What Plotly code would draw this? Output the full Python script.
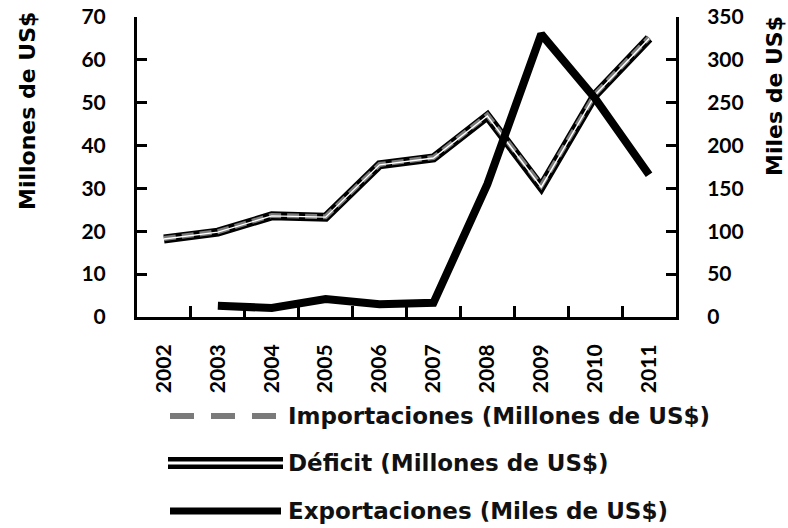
import plotly.graph_objects as go

years = ["2002", "2003", "2004", "2005", "2006", "2007", "2008", "2009", "2010", "2011"]
importaciones = [18.3, 19.9, 23.7, 23.4, 35.6, 37.2, 47.1, 30.6, 52.0, 65.2]
deficit = [18.2, 19.8, 23.6, 23.3, 35.5, 37.1, 46.9, 30.3, 51.8, 65.0]
exportaciones = [None, 13, 10.5, 21, 15, 16.5, 155, 330, 255, 166]

left_ticks = list(range(0, 71, 10))
right_ticks = list(range(0, 351, 50))

TICKFONT = "Lato"
TEXTFONT = "DejaVu Sans"
fig = go.Figure()

# Déficit: double line (black outer, with centre gap)
fig.add_trace(go.Scatter(x=years, y=deficit, mode="lines",
                         line=dict(color="black", width=9), yaxis="y", showlegend=False,
                         hoverinfo="skip"))
# Importaciones: grey dashed, visible in the gap
fig.add_trace(go.Scatter(x=years, y=importaciones, mode="lines",
                         line=dict(color="#7a7a7a", width=5, dash="12px,6px"), yaxis="y",
                         showlegend=False))
fig.add_trace(go.Scatter(x=years, y=deficit, mode="lines",
                         line=dict(color="white", width=1.4), yaxis="y", showlegend=False))
# Exportaciones (right axis)
fig.add_trace(go.Scatter(x=years, y=exportaciones, mode="lines",
                         line=dict(color="black", width=8), yaxis="y2", showlegend=False))

axis_common = dict(showgrid=False, zeroline=False, showline=True, linecolor="black",
                   linewidth=3, ticks="inside", tickcolor="black", tickwidth=2.5,
                   automargin=False,
                   tickfont=dict(family=TICKFONT, size=21, color="black", weight="bold"))

fig.update_layout(
    template="none",
    width=788, height=528, autosize=False,
    margin=dict(l=137, r=112, t=17, b=211, autoexpand=False),
    paper_bgcolor="white", plot_bgcolor="white",
    showlegend=False,
    xaxis=dict(type="category", range=[-0.5, 9.5], tickson="boundaries", ticklen=11,
               tickangle=-90, ticklabelstandoff=16, **axis_common),
    yaxis=dict(range=[0, 70], tickvals=left_ticks, ticklen=10, ticklabelstandoff=24,
               **axis_common),
    yaxis2=dict(range=[0, 350], tickvals=right_ticks, ticklen=10, overlaying="y",
                side="right", ticklabelstandoff=24, **axis_common),
)

def px(x):
    return (x - 137) / 539

def py(y):
    return (317 - y) / 300

# Axis titles
fig.add_annotation(text="Millones de US$", xref="paper", yref="paper",
                   x=px(27), y=py(111), textangle=-90, showarrow=False,
                   xanchor="center", yanchor="middle",
                   font=dict(family=TEXTFONT, size=22, color="black", weight="bold"))
fig.add_annotation(text="Miles de US$", xref="paper", yref="paper",
                   x=px(775), y=py(96), textangle=-90, showarrow=False,
                   xanchor="center", yanchor="middle",
                   font=dict(family=TEXTFONT, size=22, color="black", weight="bold"))

# Manual legend
legend_items = ["Importaciones (Millones de US$)", "Déficit (Millones de US$)",
                "Exportaciones (Miles de US$)"]
rows = [416, 463, 511]

fig.add_shape(type="line", xref="paper", yref="paper", x0=px(170), x1=px(280),
              y0=py(rows[0]), y1=py(rows[0]),
              line=dict(color="#7a7a7a", width=6, dash="24px,17px"))
fig.add_shape(type="line", xref="paper", yref="paper", x0=px(168), x1=px(283),
              y0=py(rows[1]), y1=py(rows[1]), line=dict(color="black", width=12))
fig.add_shape(type="line", xref="paper", yref="paper", x0=px(168), x1=px(283),
              y0=py(rows[1]), y1=py(rows[1]), line=dict(color="white", width=3))
fig.add_shape(type="line", xref="paper", yref="paper", x0=px(170), x1=px(281),
              y0=py(rows[2]), y1=py(rows[2]), line=dict(color="black", width=7))

for txt, r in zip(legend_items, rows):
    fig.add_annotation(text=txt, xref="paper", yref="paper", x=px(286), y=py(r),
                       xanchor="left", yanchor="middle", showarrow=False,
                       font=dict(family=TEXTFONT, size=23, color="#111111", weight="bold"))

fig.write_html("out.html", config={"displayModeBar": False},
               post_script="document.body.style.margin='0';document.body.style.overflow='hidden';")
